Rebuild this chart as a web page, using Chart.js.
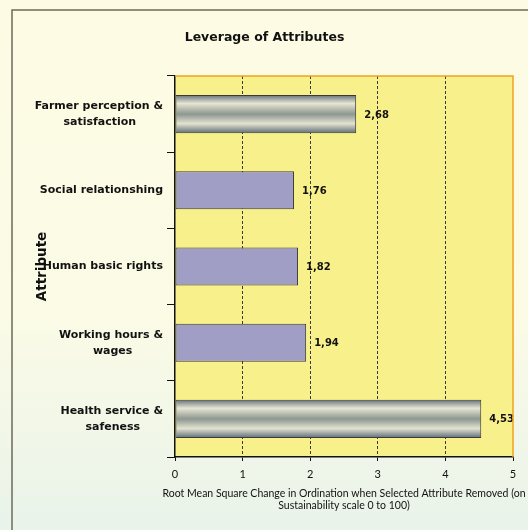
<!DOCTYPE html>
<html>
<head>
<meta charset="utf-8">
<script src="https://cdn.jsdelivr.net/npm/chart.js@4.4.0/dist/chart.umd.min.js"></script>
<style>
  html, body { margin: 0; padding: 0; background: #fdfbe4; }
  canvas { display: block; }
</style>
</head>
<body>
<canvas id="leverageChart" width="528" height="530"></canvas>
<script>
// Data
const attributes = [
    ['Farmer perception &', 'satisfaction'],
    'Social relationshing',
    'Human basic rights',
    ['Working hours &', 'wages'],
    ['Health service &', 'safeness']
];
const rmsChange = [2.68, 1.76, 1.82, 1.94, 4.53];
const xTicks = [0, 1, 2, 3, 4, 5];
const xTitle = ['Root Mean Square Change in Ordination when Selected Attribute Removed (on',
                'Sustainability scale 0 to 100)'];

// Which bars get the grey metallic look (others are lilac)
const metallicBars = [true, false, false, false, true];

const boldFont = '"DejaVu Sans", Verdana, sans-serif';
const plainFont = 'Lato, "DejaVu Sans", sans-serif';
const yLabelFont = 'bold 11px ' + boldFont;

function barFill(context) {
    const i = context.dataIndex;
    if (!metallicBars[i]) return '#a19ec6';
    const chart = context.chart;
    const area = chart.chartArea;
    const yScale = chart.scales.y;
    if (!area || !yScale) return '#b9bdb4';
    const cy = yScale.getPixelForValue(i);
    const half = area.height / attributes.length / 4;
    const g = chart.ctx.createLinearGradient(0, cy - half, 0, cy + half);
    g.addColorStop(0, '#66717e');
    g.addColorStop(0.22, '#e6e6d2');
    g.addColorStop(0.5, '#8d9690');
    g.addColorStop(0.75, '#e2e3d0');
    g.addColorStop(1, '#5f6b78');
    return g;
}

// second line of a wrapped label sits centred under the first (labels are right aligned)
function centerWrapped(label, ctx) {
    if (!Array.isArray(label)) return label;
    ctx.save();
    ctx.font = yLabelFont;
    const w1 = ctx.measureText(label[0]).width;
    const w2 = ctx.measureText(label[1]).width;
    const sp = ctx.measureText(' ').width;
    ctx.restore();
    const n = Math.max(0, Math.round((w1 - w2) / 2 / sp));
    return [label[0], label[1] + ' '.repeat(n)];
}

// Page background, outer frame and plot area fill
const backgroundPlugin = {
    id: 'backgroundPlugin',
    beforeDraw(chart) {
        const ctx = chart.ctx;
        const area = chart.chartArea;
        ctx.save();
        const bg = ctx.createLinearGradient(0, 0, 0, chart.height);
        bg.addColorStop(0, '#fdfbe3');
        bg.addColorStop(0.6, '#fbfbe6');
        bg.addColorStop(1, '#e9f3ea');
        ctx.fillStyle = bg;
        ctx.fillRect(0, 0, chart.width, chart.height);
        ctx.strokeStyle = '#6b6b5c';
        ctx.lineWidth = 1.5;
        ctx.beginPath();
        ctx.moveTo(12, chart.height + 5);
        ctx.lineTo(12, 10);
        ctx.lineTo(chart.width + 5, 10);
        ctx.stroke();
        ctx.fillStyle = '#f8f08b';
        ctx.fillRect(area.left, area.top, area.right - area.left, area.bottom - area.top);
        ctx.restore();
    },
    afterDraw(chart) {
        const ctx = chart.ctx;
        const area = chart.chartArea;
        ctx.save();
        ctx.strokeStyle = '#f0a31e';
        ctx.lineWidth = 1.5;
        ctx.beginPath();
        ctx.moveTo(area.left, area.top);
        ctx.lineTo(area.right, area.top);
        ctx.lineTo(area.right, area.bottom);
        ctx.stroke();

        // x axis title runs past the right edge, so no maxWidth squeeze
        const xs = chart.scales.x;
        ctx.font = '10.5px ' + plainFont;
        ctx.fillStyle = '#111';
        ctx.textAlign = 'center';
        ctx.textBaseline = 'middle';
        const cx = (xs.left + xs.right) / 2;
        ctx.fillText(xTitle[0], cx, xs.bottom - 36);
        ctx.fillText(xTitle[1], cx, xs.bottom - 24);
        ctx.restore();
    }
};

// Value labels to the right of each bar
const valueLabels = {
    id: 'valueLabels',
    afterDatasetsDraw(chart) {
        const ctx = chart.ctx;
        const meta = chart.getDatasetMeta(0);
        ctx.save();
        ctx.font = 'bold 10px ' + boldFont;
        ctx.fillStyle = '#111';
        ctx.textAlign = 'left';
        ctx.textBaseline = 'middle';
        meta.data.forEach((bar, i) => {
            ctx.fillText(rmsChange[i].toFixed(2).replace('.', ','), bar.x + 8, bar.y + 1);
        });
        ctx.restore();
    }
};

new Chart(document.getElementById('leverageChart'), {
    type: 'bar',
    data: {
        labels: attributes,
        datasets: [{
            data: rmsChange,
            backgroundColor: barFill,
            borderColor: '#3a3a3a',
            borderWidth: 1,
            borderSkipped: false,
            barPercentage: 1,
            categoryPercentage: 0.5
        }]
    },
    options: {
        indexAxis: 'y',
        responsive: false,
        animation: false,
        devicePixelRatio: 1,
        layout: { padding: { left: 16, right: 15, top: 20, bottom: 0 } },
        plugins: {
            legend: { display: false },
            tooltip: { enabled: false },
            title: {
                display: true,
                text: 'Leverage of Attributes',
                color: '#111',
                font: { family: boldFont, size: 12.5, weight: 'bold' },
                padding: { top: 10, bottom: 31 }
            }
        },
        scales: {
            x: {
                type: 'linear',
                min: 0,
                max: 5,
                afterBuildTicks(scale) {
                    scale.ticks = xTicks.map(v => ({ value: v }));
                },
                afterFit(scale) { scale.height = 73; },
                ticks: {
                    color: '#111',
                    padding: 7,
                    font: { family: plainFont, size: 11 }
                },
                grid: {
                    color: (c) => (c.tick && (c.tick.value === 0 || c.tick.value === 5)) ? 'rgba(0,0,0,0)' : '#3a3a3a',
                    lineWidth: 1,
                    tickLength: 4,
                    tickColor: '#111'
                },
                border: { display: true, color: '#111', width: 1.5, dash: [3, 2] },
                title: { display: false }
            },
            y: {
                type: 'category',
                afterFit(scale) { scale.width = 159; },
                ticks: {
                    color: '#111',
                    padding: 4,
                    font: { family: boldFont, size: 11, weight: 'bold', lineHeight: 1.45 },
                    callback: function (value) {
                        return centerWrapped(this.getLabelForValue(value), this.ctx);
                    }
                },
                grid: {
                    offset: true,
                    drawOnChartArea: false,
                    color: '#111',
                    tickLength: 8
                },
                border: { display: true, color: '#111', width: 1.5 },
                title: {
                    display: true,
                    text: 'Attribute',
                    color: '#111',
                    font: { family: boldFont, size: 13.5, weight: 'bold' },
                    padding: { top: 18, bottom: 0 }
                }
            }
        }
    },
    plugins: [backgroundPlugin, valueLabels]
});
</script>
</body>
</html>
